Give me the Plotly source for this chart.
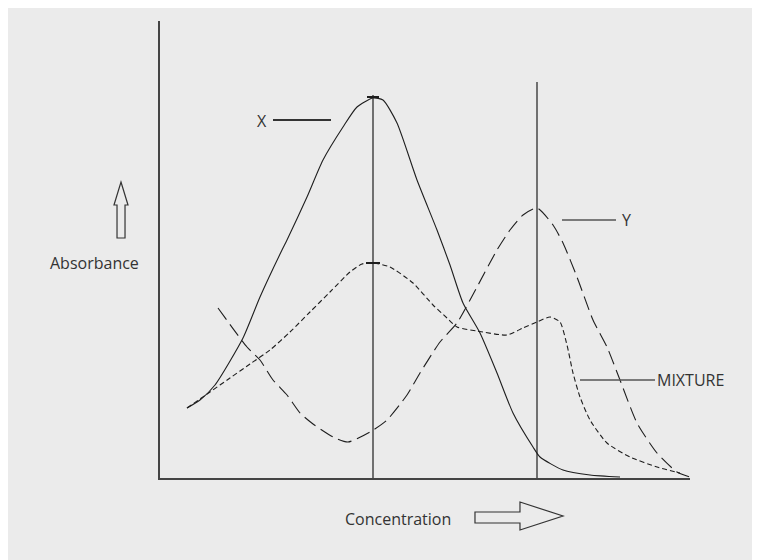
import plotly.graph_objects as go

# Curve X (solid)
x_conc = [27, 40, 55, 83, 100, 122, 127, 147, 163, 183, 197, 213, 223, 237, 257, 277, 290, 303, 320, 337, 353, 373, 380, 403, 430, 460]
x_abs = [70, 78, 93, 140, 181, 228, 238, 281, 318, 351, 371, 380, 378, 355, 298, 248, 213, 175, 145, 105, 65, 31, 21, 8, 3, 1]

# Curve Y (long dashes)
y_conc = [58, 87, 100, 113, 127, 140, 153, 173, 188, 210, 227, 247, 260, 280, 297, 317, 337, 350, 363, 377, 393, 403, 417, 433, 447, 460, 477, 497, 517, 530]
y_abs = [170, 131, 118, 98, 83, 65, 54, 41, 36, 46, 58, 83, 105, 136, 155, 191, 228, 248, 263, 270, 253, 235, 201, 158, 131, 98, 55, 25, 6, 1]

# Mixture (short dashes)
m_conc = [27, 50, 70, 90, 110, 130, 150, 170, 190, 202, 213, 230, 253, 273, 287, 297, 317, 347, 363, 377, 390, 400, 407, 413, 420, 430, 447, 470, 497, 520]
m_abs = [70, 86, 100, 114, 128, 146, 166, 186, 206, 214, 215, 211, 195, 173, 160, 151, 147, 143, 150, 156, 161, 156, 133, 105, 81, 58, 35, 21, 11, 5]

peak_x = 213
peak_y = 377

XMAX, YMAX = 530, 457
LINE = "#1e1e1e"
BG = "#ebebeb"
OFF = 8  # page margin of the browser body

fig = go.Figure()
fig.add_trace(go.Scatter(x=x_conc, y=x_abs, mode="lines", line=dict(color=LINE, width=1.1, shape="spline", smoothing=0.6), hoverinfo="skip"))
fig.add_trace(go.Scatter(x=y_conc, y=y_abs, mode="lines", line=dict(color=LINE, width=1.1, dash="14px,6px", shape="spline", smoothing=0.6), hoverinfo="skip"))
fig.add_trace(go.Scatter(x=m_conc, y=m_abs, mode="lines", line=dict(color=LINE, width=1.1, dash="5px,3px", shape="spline", smoothing=0.6), hoverinfo="skip"))

shapes = [
    dict(type="line", xref="x", yref="y", x0=peak_x, x1=peak_x, y0=0, y1=383, line=dict(color=LINE, width=1.2)),
    dict(type="line", xref="x", yref="y", x0=peak_y, x1=peak_y, y0=0, y1=396, line=dict(color=LINE, width=1.2)),
    dict(type="line", xref="x", yref="y", x0=peak_x - 6, x1=peak_x + 6, y0=381, y1=381, line=dict(color=LINE, width=2)),
    dict(type="line", xref="x", yref="y", x0=peak_x - 7, x1=peak_x + 7, y0=215, y1=215, line=dict(color=LINE, width=2)),
    dict(type="line", xref="x", yref="y", x0=113, x1=171, y0=358, y1=358, line=dict(color="#333", width=2)),
    dict(type="line", xref="x", yref="y", x0=402, x1=456, y0=258, y1=258, line=dict(color="#555", width=1.5)),
    dict(type="line", xref="x", yref="y", x0=420, x1=495, y0=98, y1=98, line=dict(color="#555", width=1.5)),
]

def px(xp, yp):
    return (xp - 160) / XMAX, (478 - yp) / YMAX

def path(points):
    segs = []
    for i, (a, b) in enumerate(points):
        u, v = px(a, b)
        segs.append(("M" if i == 0 else "L") + f"{u:.4f},{v:.4f}")
    return " ".join(segs) + " Z"

up_arrow = [(121, 182), (128, 205), (125, 205), (125, 238), (117, 238), (117, 205), (114, 205)]
right_arrow = [(475, 512), (520, 512), (520, 502), (563, 516), (520, 530), (520, 523), (475, 523)]
for pts in (up_arrow, right_arrow):
    shapes.append(dict(type="path", xref="paper", yref="paper", path=path(pts), line=dict(color="#333", width=1.2), fillcolor="rgba(0,0,0,0)"))

font = dict(family="Open Sans, Noto Sans, sans-serif", size=16, color="#333")
ax, ay = px(94, 263)
cx, cy = px(398, 519)
annotations = [
    dict(x=102, y=357, xref="x", yref="y", text="X", showarrow=False, font=font, xanchor="center", yanchor="middle"),
    dict(x=460, y=258, xref="x", yref="y", text="Y", showarrow=False, font=font, xanchor="left", yanchor="middle"),
    dict(x=495, y=98, xref="x", yref="y", text="MIXTURE", showarrow=False, font=font, xanchor="left", yanchor="middle"),
    dict(x=ax, y=ay, xref="paper", yref="paper", text="Absorbance", showarrow=False, font=font, xanchor="center", yanchor="middle"),
    dict(x=cx, y=cy, xref="paper", yref="paper", text="Concentration", showarrow=False, font=font, xanchor="center", yanchor="middle"),
]

fig.update_layout(
    width=760, height=560,
    margin=dict(l=160 - OFF, r=760 - (690 - OFF), t=21 - OFF, b=560 - (478 - OFF)),
    paper_bgcolor=BG, plot_bgcolor=BG,
    showlegend=False,
    shapes=shapes, annotations=annotations,
    xaxis=dict(range=[0, XMAX], showgrid=False, zeroline=False, showticklabels=False, ticks="",
               showline=True, linecolor="#444", linewidth=1.5, fixedrange=True),
    yaxis=dict(range=[0, YMAX], showgrid=False, zeroline=False, showticklabels=False, ticks="",
               showline=True, linecolor="#444", linewidth=1.5, fixedrange=True),
)

fig.write_html("out.html")
